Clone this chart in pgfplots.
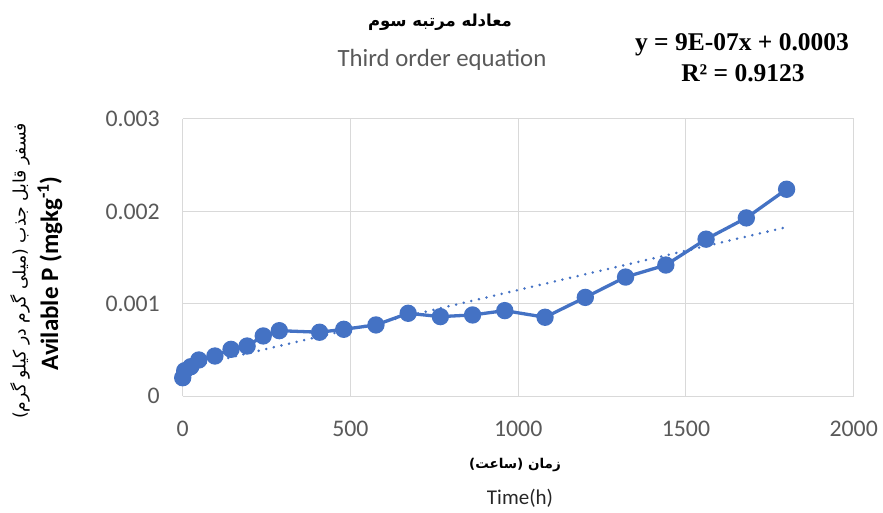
\documentclass[border=0pt]{standalone}
\usepackage{pgfplots}
\pgfplotsset{compat=1.18}
\usepackage{fontspec}
\setmainfont{Carlito}
\newfontfamily\arabicfont[Script=Arabic]{DejaVu Sans}
\newfontfamily\timesfont{Liberation Serif}
\TeXXeTstate=1
\definecolor{excelblue}{HTML}{4472C4}
\definecolor{gridgray}{HTML}{D9D9D9}
\definecolor{labelgray}{HTML}{595959}

\begin{document}
\begin{tikzpicture}[x=1pt,y=1pt]
\path[use as bounding box] (0,0) rectangle (883,512);
\begin{axis}[
  at={(182.7pt,115.7pt)}, anchor=south west,
  scale only axis, width=671pt, height=277.3pt,
  xmin=0, xmax=2000, ymin=0, ymax=0.003,
  xtick={0,500,1000,1500,2000},
  xticklabels={0,500,1000,1500,2000},
  ytick={0,0.001,0.002,0.003},
  yticklabels={0,0.001,0.002,0.003},
  scaled y ticks=false,
  grid=major,
  major grid style={draw=gridgray, line width=1pt},
  axis line style={draw=none},
  tick style={draw=none},
  xticklabel style={font=\fontsize{23.8}{26}\selectfont, text=labelgray,
    inner sep=0pt, anchor=north, yshift=-24.3pt},
  yticklabel style={font=\fontsize{23.8}{26}\selectfont, text=labelgray,
    inner sep=0pt, anchor=east, xshift=-22.7pt},
  clip=false,
]
% linear trend line
\addplot[excelblue, line width=2.8pt, line cap=round,
  dash pattern=on 0pt off 7.8pt]
  coordinates {(0,0.0003) (1800,0.00183)};
% measured available P
\addplot[excelblue, line width=3.3pt,
  mark=*, mark size=7pt, mark options={solid, fill=excelblue, draw=none}]
  coordinates {
    (0,0.000201) (6,0.000277) (24,0.00032) (48,0.000393)
    (96,0.000436) (144,0.000508) (192,0.000544) (240,0.000653)
    (288,0.00071) (408,0.000693) (480,0.000725) (576,0.000772)
    (672,0.000898) (768,0.000862) (864,0.00088) (960,0.000927)
    (1080,0.000855) (1200,0.00107) (1320,0.00129) (1440,0.00142)
    (1560,0.0017) (1680,0.00193) (1800,0.00224)
  };
\end{axis}
% titles
\node[font=\arabicfont\bfseries\fontsize{16.5}{20}\selectfont] at (440,490)
  {\beginR معادله مرتبه سوم\endR};
\node[anchor=base, text=labelgray, font=\fontsize{24.8}{28}\selectfont]
  at (442,445.3) {Third order equation};
% trend equation
\node[anchor=base, font=\timesfont\bfseries\fontsize{25.5}{28}\selectfont]
  at (742,461.3) {y = 9E-07x + 0.0003};
\node[anchor=base, font=\timesfont\bfseries\fontsize{25.5}{28}\selectfont]
  at (743,430.3) {R² = 0.9123};
% axis titles
\node[font=\arabicfont\bfseries\fontsize{13.5}{18}\selectfont] at (515,47)
  {\beginR زمان (ساعت)\endR};
\node[anchor=base, text=black!85, font=\fontsize{21}{24}\selectfont]
  at (520,8) {Time(h)};
\node[rotate=90, font=\arabicfont\fontsize{17.2}{20}\selectfont] at (20,241)
  {\beginR فسفر قابل جذب (میلی گرم در کیلو گرم)\endR};
\node[rotate=90, anchor=base, font=\bfseries\fontsize{25}{28}\selectfont]
  at (58,238.5) {Avilable P (mgkg\textsuperscript{-1})};
\end{tikzpicture}
\end{document}
